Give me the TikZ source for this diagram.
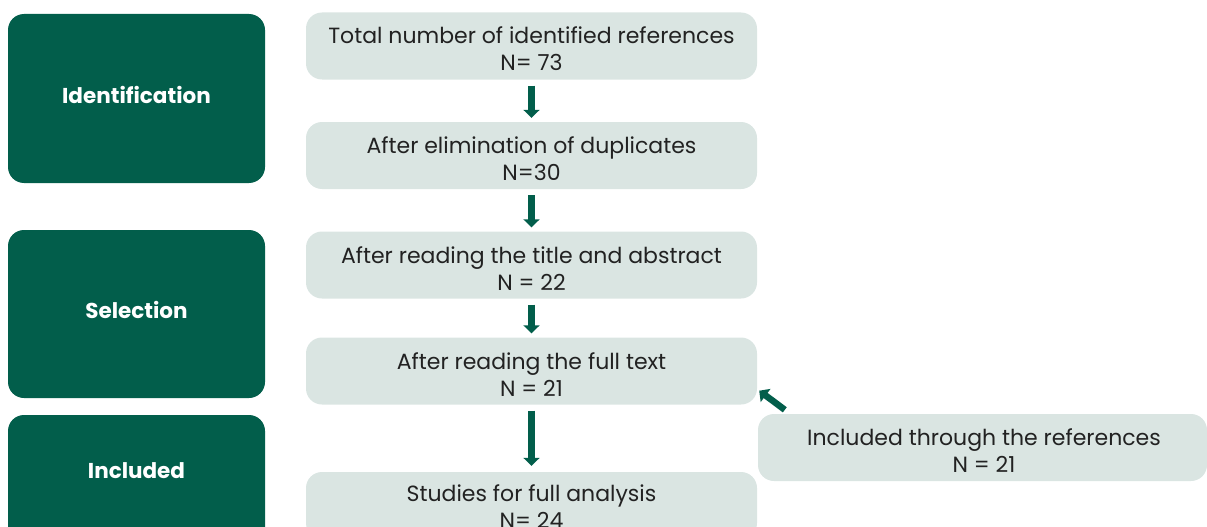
\documentclass[tikz,border=0pt]{standalone}
\usepackage{fontspec}
\setmainfont{Poppins}
\usetikzlibrary{arrows.meta,calc}
\definecolor{dkgreen}{HTML}{025E4B}
\definecolor{ltbox}{HTML}{DAE5E2}
\definecolor{txt}{HTML}{222222}
\begin{document}
\begin{tikzpicture}[x=1pt,y=-1pt,
  phase/.style={fill=dkgreen,rounded corners=16pt,text=white,
    minimum width=257pt,inner sep=0pt},
  phasetxt/.style={text=white,font=\fontsize{21.5}{25}\selectfont\bfseries,inner sep=0pt},
  stepbox/.style={fill=ltbox,rounded corners=16pt,
    minimum width=451pt,minimum height=67pt,inner sep=0pt},
  steptxt/.style={text=txt,font=\fontsize{22}{27}\selectfont,align=center,inner sep=0pt},
  flow/.style={draw=dkgreen,line width=7pt,-{Triangle[width=16pt,length=8pt]}}]
\useasboundingbox (0,0) rectangle (1207,527);
\clip (0,0) rectangle (1207,527);
\node[phase,minimum height=169pt] (ident) at (136.5,98.5) {};
\node[phase,minimum height=168pt] (sel) at (136.5,314) {};
\node[phase,minimum height=140pt] (incl) at (136.5,485) {};
\node[phasetxt] (identtxt) at (136.5,95) {Identification};
\node[phasetxt] (seltxt) at (136.5,310) {Selection};
\node[phasetxt] (incltxt) at (136.5,471) {Included};
\node[stepbox] (b1) at (531.5,46) {};
\node[stepbox] (b2) at (531.5,155.5) {};
\node[stepbox] (b3) at (531.5,265) {};
\node[stepbox] (b4) at (531.5,371) {};
\node[stepbox] (b5) at (531.5,505.5) {};
\node[stepbox,minimum width=449pt] (side) at (982.5,447.5) {};
\node[steptxt] (t1) at (531.5,49) {Total number of identified references\\N= 73};
\node[steptxt] (t2) at (531.5,158.5) {After elimination of duplicates\\N=30};
\node[steptxt] (t3) at (531.5,268.5) {After reading the title and abstract\\N = 22};
\node[steptxt] (t4) at (531.5,374.5) {After reading the full text\\N = 21};
\node[steptxt] (t5) at (531.5,507) {Studies for full analysis\\N= 24};
\node[steptxt] (t6) at (984,451) {Included through the references\\N = 21};
\draw[flow] ([yshift=-6pt]b1.south) -- ([yshift=4pt]b2.north);
\draw[flow] ([yshift=-6pt]b2.south) -- ([yshift=4pt]b3.north);
\draw[flow] ([yshift=-6pt]b3.south) -- ([yshift=4pt]b4.north);
\draw[flow] ([yshift=-6pt]b4.south) -- ([yshift=6pt]b5.north);
\coordinate (tail) at ($(side.north west)+(27,-4)$);
\coordinate (tip) at ($(b4.south east)+(2,-14)$);
\draw[flow,line width=6.5pt] (tail) -- (tip);
\end{tikzpicture}
\end{document}
